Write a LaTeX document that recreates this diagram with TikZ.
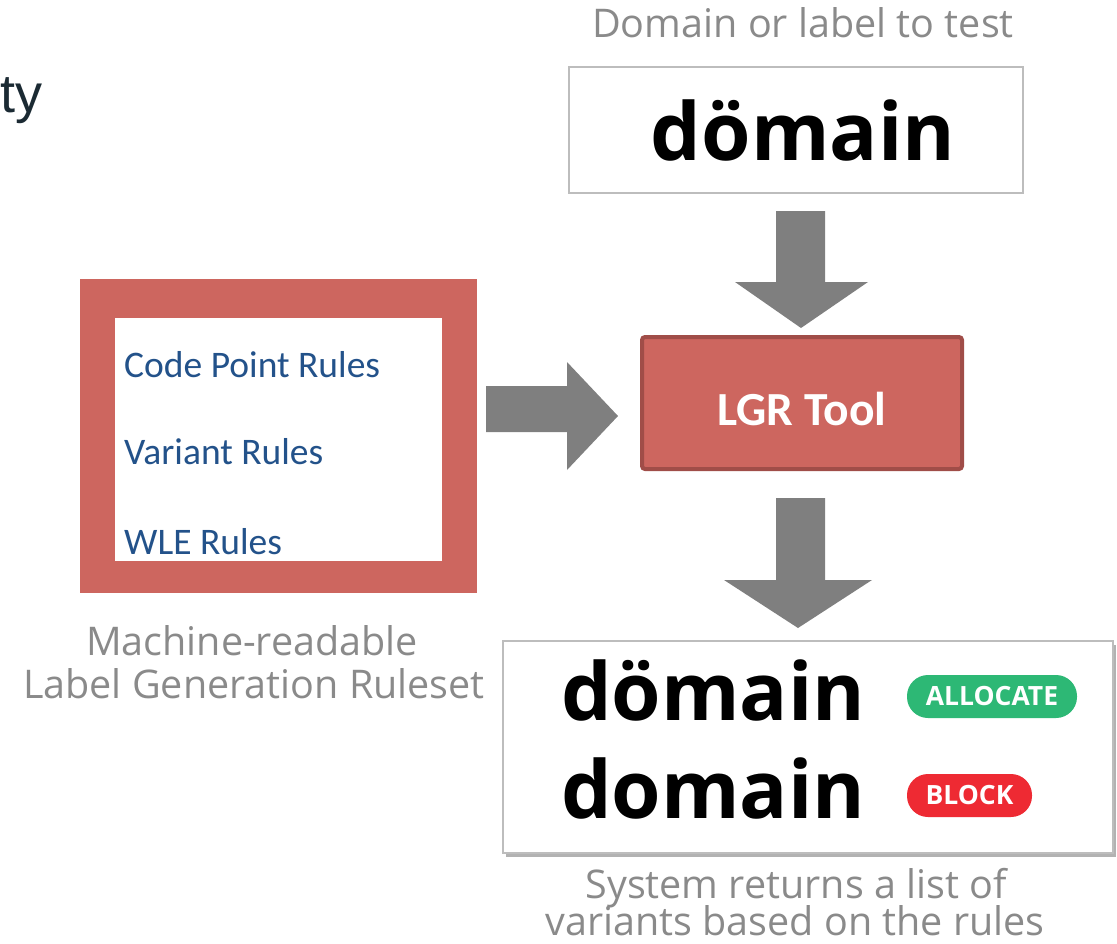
\documentclass[tikz,border=0pt]{standalone}
\usepackage{fontspec}
\newfontfamily\osans{Open Sans}
\newfontfamily\calib{Carlito}
\newfontfamily\arial{Liberation Sans}
\definecolor{lgrred}{HTML}{CD665F}
\definecolor{lgrdark}{HTML}{A04D48}
\definecolor{arrgray}{HTML}{7F7F7F}
\definecolor{capgray}{HTML}{8A8A8A}
\definecolor{boxgray}{HTML}{BDBDBD}
\definecolor{ruleblue}{HTML}{23528A}
\definecolor{okgreen}{HTML}{2DB875}
\definecolor{blockred}{HTML}{EE2A33}
\definecolor{slidetext}{HTML}{1B2A33}
\begin{document}
\begin{tikzpicture}[x=1pt,y=-1pt,
  caption/.style={font=\osans\fontsize{39.5}{48}\selectfont, text=capgray, inner sep=0, anchor=base},
  bigword/.style={font=\osans\bfseries\fontsize{80}{90}\selectfont, text=black, inner sep=0, anchor=base west},
  rule/.style={font=\calib\fontsize{37.5}{44}\selectfont, text=ruleblue, inner sep=0, anchor=base west},
  pill/.style={rounded corners=21pt, inner sep=0, text=white, font=\osans\bfseries\fontsize{26.5}{30}\selectfont, minimum height=43},
  blockarrow/.style={fill=arrgray, draw=none}]
\useasboundingbox (0,0) rectangle (1117,943);
% slide fragment
\node[font=\arial\fontsize{54}{64}\selectfont, text=slidetext, inner sep=0, anchor=base west] (ty) at (0,112) {ty};
% input
\node[caption] (intitle) at (803,37) {Domain or label to test};
\node[draw=boxgray, line width=2, fill=white, minimum width=454, minimum height=126, inner sep=0] (inbox) at (796,130) {};
\node[bigword, anchor=base] (inword) at (803,160) {dömain};
% arrow down 1
\fill[blockarrow] (776,211) -- (825,211) -- (825,282) -- (868,282) -- (801,328) -- (735,282) -- (776,282) -- cycle;
% LGR tool
\node[fill=lgrred, draw=lgrdark, line width=4, rounded corners=3, minimum width=320, minimum height=132, inner sep=0] (tool) at (802,403) {};
\node[font=\calib\bfseries\fontsize{47.5}{56}\selectfont, text=white, inner sep=0, anchor=base] (toollbl) at (802,425) {LGR Tool};
% ruleset
\node[fill=lgrred, minimum width=397, minimum height=314, inner sep=0] (rsouter) at (278.5,436) {};
\node[fill=white, minimum width=327, minimum height=243, inner sep=0] (rsinner) at (278.5,439.5) {};
\node[rule] (r1) at (124,377) {Code Point Rules};
\node[rule] (r2) at (124,464) {Variant Rules};
\node[rule] (r3) at (124,554) {WLE Rules};
\node[caption] (rscap1) at (252,655) {Machine-readable};
\node[caption] (rscap2) at (254,698) {Label Generation Ruleset};
% arrow right
\fill[blockarrow] (486,386) -- (567,386) -- (567,362) -- (618,416) -- (567,470) -- (567,432) -- (486,432) -- cycle;
% arrow down 2
\fill[blockarrow] (776,498) -- (825,498) -- (825,580) -- (872,580) -- (798,628) -- (724,580) -- (776,580) -- cycle;
% result
\fill[black!30] (506,645) rectangle (1116,857);
\node[draw=boxgray, line width=1.5, fill=white, minimum width=610, minimum height=212, inner sep=0] (outbox) at (808,747) {};
\node[bigword] (w1) at (561,720) {dömain};
\node[bigword] (w2) at (561,818) {domain};
\node[pill, fill=okgreen, minimum width=170] (allocate) at (992,696.5) {ALLOCATE};
\node[pill, fill=blockred, minimum width=125] (block) at (969.5,795.5) {BLOCK};
\node[caption] (outcap1) at (796,898) {System returns a list of};
\node[caption] (outcap2) at (795,935) {variants based on the rules};
\end{tikzpicture}
\end{document}
